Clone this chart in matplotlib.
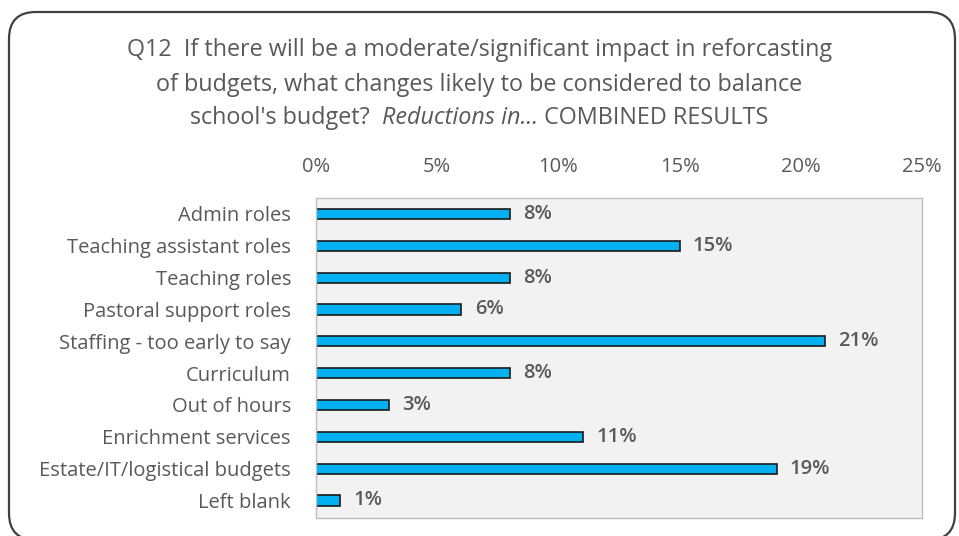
import matplotlib.pyplot as plt
from matplotlib.patches import FancyBboxPatch
from matplotlib.ticker import PercentFormatter

# ===== 数据 =====
categories = [
    "Admin roles",
    "Teaching assistant roles",
    "Teaching roles",
    "Pastoral support roles",
    "Staffing - too early to say",
    "Curriculum",
    "Out of hours",
    "Enrichment services",
    "Estate/IT/logistical budgets",
    "Left blank",
]
shares = [0.08, 0.15, 0.08, 0.06, 0.21, 0.08, 0.03, 0.11, 0.19, 0.01]
x_ticks = [0.0, 0.05, 0.10, 0.15, 0.20, 0.25]

TEXT_GREY = "#595959"
BAR_BLUE = "#00B0F0"
TITLE_SIZE = 16.8
LABEL_SIZE = 14.5

plt.rcParams["font.family"] = ["Open Sans", "DejaVu Sans"]

fig = plt.figure(figsize=(9.59, 5.36), dpi=100)

# 外框：圆角边框，放在坐标轴下面
frame = FancyBboxPatch(
    (9 / 959, -4 / 536),
    946 / 959,
    (536 - 12 + 4) / 536,
    boxstyle="round,pad=0,rounding_size=0.028",
    transform=fig.transFigure,
    facecolor="white",
    edgecolor="#404040",
    linewidth=1.6,
    mutation_aspect=959 / 536,
    zorder=-10,
)
fig.patches.append(frame)

ax = fig.add_axes([316 / 959, 1 - 518 / 536, 606 / 959, 320 / 536])
ax.set_facecolor("#F2F2F2")
for spine in ax.spines.values():
    spine.set_color("#BFBFBF")
    spine.set_linewidth(1.0)

positions = range(len(categories))
ax.barh(
    positions,
    shares,
    height=0.32,
    color=BAR_BLUE,
    edgecolor="#1A1A1A",
    linewidth=1.2,
)

for pos, value in zip(positions, shares):
    ax.text(
        value + 0.0055,
        pos,
        f"{value:.0%}",
        va="center",
        ha="left",
        fontsize=LABEL_SIZE,
        color=TEXT_GREY,
        fontweight="semibold",
    )

ax.set_xlim(0, 0.25)
ax.set_ylim(9.55, -0.5)
ax.set_xticks(x_ticks)
ax.xaxis.set_major_formatter(PercentFormatter(1.0, decimals=0))
ax.xaxis.tick_top()
ax.tick_params(axis="x", length=0, pad=15, labelsize=LABEL_SIZE, labelcolor=TEXT_GREY)
ax.set_yticks(list(positions))
ax.set_yticklabels(categories)
ax.tick_params(axis="y", length=0, pad=18, labelsize=LABEL_SIZE, labelcolor=TEXT_GREY)

# 标题：前两行普通文本，第三行有斜体部分
fig.text(0.5, 1 - 50 / 536,
         "Q12  If there will be a moderate/significant impact in reforcasting",
         ha="center", va="center", fontsize=TITLE_SIZE, color=TEXT_GREY)
fig.text(0.5, 1 - 85 / 536,
         "of budgets, what changes likely to be considered to balance",
         ha="center", va="center", fontsize=TITLE_SIZE, color=TEXT_GREY)

parts = [
    ("school's budget?  ", "normal"),
    ("Reductions in...", "italic"),
    (" COMBINED RESULTS", "normal"),
]
fig.canvas.draw()
renderer = fig.canvas.get_renderer()
texts = []
for content, style in parts:
    t = fig.text(0, 1 - 118 / 536, content, ha="left", va="center",
                 fontsize=TITLE_SIZE, color=TEXT_GREY, fontstyle=style)
    texts.append(t)
widths = [t.get_window_extent(renderer).width for t in texts]
x_px = (959 - sum(widths)) / 2
for t, w in zip(texts, widths):
    t.set_x(x_px / 959)
    x_px += w

fig.savefig("out.png", dpi=100)
